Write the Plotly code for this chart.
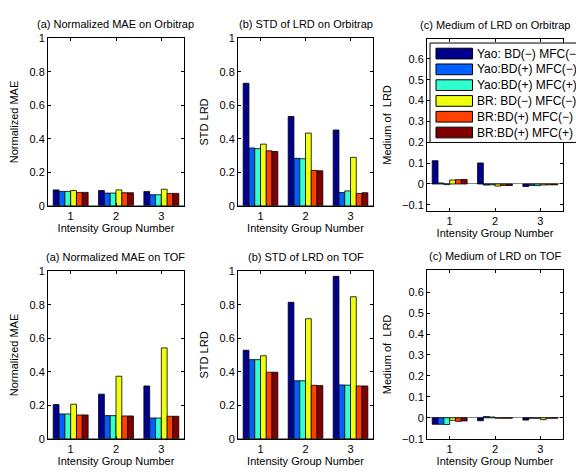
import plotly.graph_objects as go

groups = [1, 2, 3]
series_names = ["Yao: BD(−) MFC(−)", "Yao:BD(+) MFC(−)", "Yao:BD(+) MFC(+)",
                "BR: BD(−) MFC(−)", "BR:BD(+) MFC(−)", "BR:BD(+) MFC(+)"]
colors = ["#00008F", "#0060FF", "#30FFD0", "#F0FF10", "#FF4000", "#800000"]

mae_orbi = [[0.095, 0.091, 0.086], [0.086, 0.076, 0.066], [0.086, 0.076, 0.066],
            [0.091, 0.095, 0.099], [0.080, 0.078, 0.074], [0.080, 0.078, 0.074]]
std_orbi = [[0.731, 0.533, 0.452], [0.345, 0.283, 0.079], [0.341, 0.281, 0.089],
            [0.368, 0.434, 0.289], [0.328, 0.211, 0.074], [0.324, 0.209, 0.078]]
med_orbi = [[0.112, 0.101, -0.012], [0.005, -0.005, -0.007], [-0.003, -0.004, -0.008],
            [0.019, -0.010, -0.005], [0.021, -0.007, -0.004], [0.022, -0.007, -0.004]]
mae_tof = [[0.204, 0.266, 0.315], [0.148, 0.138, 0.124], [0.148, 0.138, 0.124],
           [0.206, 0.373, 0.542], [0.142, 0.136, 0.134], [0.142, 0.136, 0.134]]
std_tof = [[0.528, 0.814, 0.969], [0.472, 0.346, 0.321], [0.472, 0.346, 0.320],
           [0.495, 0.716, 0.847], [0.397, 0.319, 0.315], [0.397, 0.317, 0.315]]
med_tof = [[-0.031, -0.014, -0.011], [-0.031, 0.006, -0.002], [-0.032, 0.004, -0.002],
           [-0.012, -0.002, -0.009], [-0.017, -0.002, -0.002], [-0.015, -0.002, -0.002]]

titles = ["(a) Normalized MAE on Orbitrap", "(b) STD of LRD on Orbitrap", "(c) Medium of LRD on Orbitrap",
          "(a) Normalized MAE on TOF", "(b) STD of LRD on TOF", "(c) Medium of LRD on TOF"]
ytitles = ["Normalized MAE", "STD LRD", "Medium of\u00a0 LRD",
           "Normalized MAE", "STD LRD", "Medium of\u00a0 LRD"]
panels = [mae_orbi, std_orbi, med_orbi, mae_tof, std_tof, med_tof]
yranges = [[0, 1], [0, 1], [-0.128, 0.695], [0, 1], [0, 1], [-0.1, 0.705]]
ticks_main = [0, 0.2, 0.4, 0.6, 0.8, 1]
ticks_med = [-0.1, 0, 0.1, 0.2, 0.3, 0.4, 0.5, 0.6]

W, H = 576, 474
# axes boxes in pixels (left, right, top, bottom)
boxes = [(48, 184, 33, 205), (238, 373, 33, 205), (427, 563, 34, 210),
         (48, 184, 272, 444), (238, 373, 272, 444), (427, 563, 271, 444)]

FONT = "Liberation Sans, Arial, sans-serif"
FS = 11
fig = go.Figure()
layout = dict(width=W, height=H, margin=dict(l=0, r=0, t=0, b=0),
              paper_bgcolor="white", plot_bgcolor="white",
              barmode="group", bargap=0.23, bargroupgap=0.0, showlegend=False,
              font=dict(family=FONT, size=FS, color="black"),
              annotations=[], shapes=[])


def fmt(v):
    s = ("%g" % v)
    return s.replace("-", "−")


for p in range(6):
    ax = "" if p == 0 else str(p + 1)
    for s in range(6):
        fig.add_trace(go.Bar(
            x=groups, y=panels[p][s], name=series_names[s],
            marker=dict(color=colors[s], line=dict(color="black", width=0.8)),
            xaxis="x" + ax, yaxis="y" + ax))
    l, r, t, b = boxes[p]
    xd = [l / W, r / W]
    yd = [1 - b / H, 1 - t / H]
    tv = ticks_med if p % 3 == 2 else ticks_main
    layout["xaxis" + ax] = dict(
        domain=xd, anchor="y" + ax, range=[0.5, 3.5], tickvals=groups,
        ticktext=[str(g) for g in groups],
        showline=True, linecolor="black", linewidth=1, mirror="allticks",
        ticks="inside", ticklen=3, tickcolor="black", showgrid=False, zeroline=False,
        title=dict(text="Intensity Group Number", standoff=2, font=dict(size=FS)),
        tickfont=dict(size=FS))
    layout["yaxis" + ax] = dict(
        domain=yd, anchor="x" + ax, range=yranges[p], tickvals=tv,
        ticktext=[fmt(v) for v in tv],
        showline=True, linecolor="black", linewidth=1, mirror="allticks",
        ticks="inside", ticklen=3, tickcolor="black", showgrid=False,
        zeroline=True, zerolinecolor="#888888", zerolinewidth=1,
        title=dict(text=ytitles[p], standoff=8, font=dict(size=FS)),
        tickfont=dict(size=FS))
    layout["annotations"].append(dict(
        text=titles[p], x=(xd[0] + xd[1]) / 2, y=yd[1], xref="paper", yref="paper",
        xanchor="center", yanchor="bottom", yshift=6, showarrow=False,
        font=dict(size=FS, family=FONT, color="black")))

# Legend box drawn inside panel (c) of the top row (extends past the right edge as in the original)
LEG_LEFT, LEG_TOP, LEG_BOTTOM = 430, 38, 140
ROW0, ROW_STEP = 48.8, 16.2
SW_L, SW_R, SW_H = 436, 472.5, 11
layout["shapes"].append(dict(
    type="rect", xref="paper", yref="paper", x0=LEG_LEFT / W, x1=1.1,
    y0=1 - LEG_BOTTOM / H, y1=1 - LEG_TOP / H,
    line=dict(color="black", width=1), fillcolor="white", layer="above"))
for i, (name, col) in enumerate(zip(series_names, colors)):
    yc = ROW0 + i * ROW_STEP
    layout["shapes"].append(dict(
        type="rect", xref="paper", yref="paper", x0=SW_L / W, x1=SW_R / W,
        y0=1 - (yc + SW_H / 2) / H, y1=1 - (yc - SW_H / 2) / H,
        line=dict(color="black", width=1), fillcolor=col, layer="above"))
    layout["annotations"].append(dict(
        text=name, x=(SW_R + 2.5) / W, y=1 - yc / H, xref="paper", yref="paper",
        xanchor="left", yanchor="middle", showarrow=False,
        font=dict(size=12, family=FONT, color="black")))

fig.update_layout(**layout)
fig.write_html("out.html")
